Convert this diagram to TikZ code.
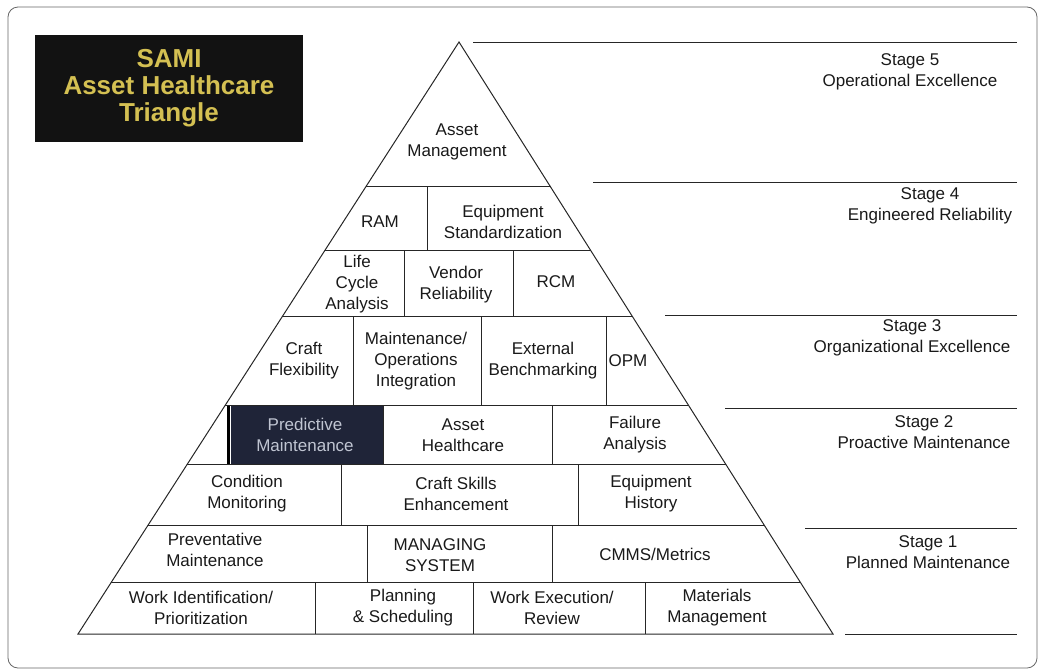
\documentclass[tikz,border=0pt]{standalone}
\usepackage{fontspec}
\setmainfont{Liberation Sans}
\usetikzlibrary{calc}
\definecolor{titlegold}{RGB}{212,192,82}
\definecolor{navybox}{RGB}{31,36,56}
\definecolor{palegrey}{RGB}{192,197,210}

\begin{document}
\begin{tikzpicture}[x=1pt, y=-1pt, every node/.style={align=center, inner sep=0pt, text=black!90, font=\fontsize{17}{21}\selectfont},
    rule/.style={line width=1pt, black!85}]
    \useasboundingbox (0,0) rectangle (1039,670);
    \draw[black!60, line width=0.8pt, rounded corners=10pt] (8,7) rectangle (1037,668);

    % Titre
    \node (title) [fill=black!93, minimum width=268, minimum height=107, text=titlegold, font=\bfseries\fontsize{26}{27}\selectfont] at (169,88) {SAMI\\Asset Healthcare\\Triangle};

    % Triangle
    \coordinate (apex) at (459,42);
    \coordinate (bl) at (78,634);
    \coordinate (br) at (833,634);
    \fill[navybox] (231,405) rectangle (383,465);
    \draw[line width=3pt] (228,405) -- (228,465);
    \draw[rule] (apex) -- (bl) -- (br) -- cycle;
    \foreach \f in {0.2449,0.3530,0.4645,0.6132,0.7145,0.8159,0.9122}
        \draw[rule] ($(apex)!\f!(bl)$) -- ($(apex)!\f!(br)$);
    \foreach \x/\ya/\yb in {427/187/251, 404/251/317, 513/251/317, 353/317/405, 481/317/405, 606/317/405,
        383/405/465, 552/405/465, 341/465/525, 578/465/525, 367/525/582, 552/525/582,
        315/582/634, 473/582/634, 645/582/634}
        \draw[rule] (\x,\ya) -- (\x,\yb);

    % Cases
    \node (am) at (457,142) {Asset\\Management};
    \node (ram) at (380,222) {RAM};
    \node (eqstd) at (503,222) {Equipment\\Standardization};
    \node (lca) at (357,284) {Life\\Cycle\\Analysis};
    \node (vendor) at (456,285) {Vendor\\Reliability};
    \node (rcm) at (556,282) {RCM};
    \node (craftflex) at (304,361) {Craft\\Flexibility};
    \node (moi) at (416,361) {Maintenance/\\Operations\\Integration};
    \node (bench) at (543,361) {External\\Benchmarking};
    \node (opm) at (628,361) {OPM};
    \node (pdm) [text=palegrey] at (305,435) {Predictive\\Maintenance};
    \node (ahc) at (463,435) {Asset\\Healthcare};
    \node (failure) at (635,435) {Failure\\Analysis};
    \node (cm) at (247,494) {Condition\\Monitoring};
    \node (skills) at (456,494) {Craft Skills\\Enhancement};
    \node (history) at (651,494) {Equipment\\History};
    \node (pm) at (215,550) {Preventative\\Maintenance};
    \node (msys) at (440,555) {MANAGING\\SYSTEM};
    \node (cmms) at (655,554) {CMMS/Metrics};
    \node (workid) at (201,608) {Work Identification/\\Prioritization};
    \node (plan) at (403,608) {Planning\\\& Scheduling};
    \node (exec) at (552,608) {Work Execution/\\Review};
    \node (mat) at (717,608) {Materials\\Management};

    % Etapes
    \foreach \ya/\xa in {42/473, 182/593, 315/665, 408/725, 528/805, 634/845}
        \draw[rule] (\xa,\ya) -- (1017,\ya);
    \node (stage5) at (910,72) {Stage 5\\Operational Excellence};
    \node (stage4) at (930,206) {Stage 4\\Engineered Reliability};
    \node (stage3) at (912,338) {Stage 3\\Organizational Excellence};
    \node (stage2) at (924,432) {Stage 2\\Proactive Maintenance};
    \node (stage1) at (928,552) {Stage 1\\Planned Maintenance};
\end{tikzpicture}
\end{document}
